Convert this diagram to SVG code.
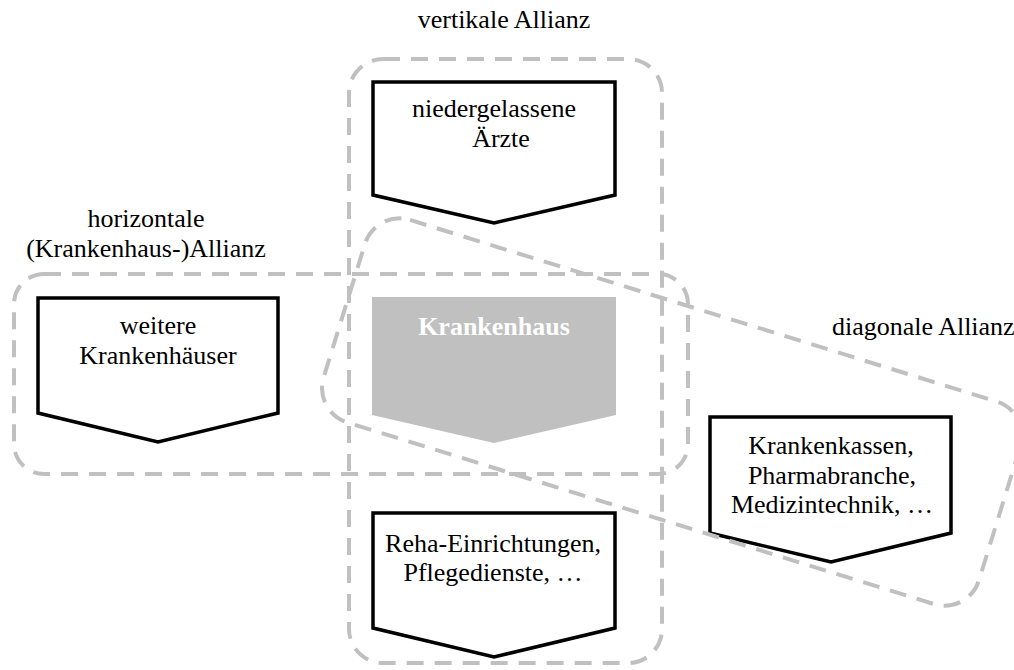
<svg xmlns="http://www.w3.org/2000/svg" width="1014" height="670" viewBox="0 0 1014 670">
<style>
.al{fill:none;stroke:#c0c0c0;stroke-width:4;stroke-dasharray:17 11}
.nd{fill:#fff;stroke:#000;stroke-width:3.5;stroke-linejoin:miter}
.t{font-family:"Liberation Serif","Times New Roman",serif;font-size:26px;fill:#000;text-anchor:middle}
.tl{font-family:"Liberation Serif","Times New Roman",serif;font-size:26px;fill:#000}
.kh{font-family:"Liberation Serif","Times New Roman",serif;font-size:26px;font-weight:bold;fill:#fff;text-anchor:middle}
</style>
<rect width="1014" height="670" fill="#fff"/>
<g id="nodes-fill">
<g id="aerzte">
<polygon class="nd" points="373,82 615,82 615,195 494,223 373,195"/>
<text class="t" x="494" y="117">niedergelassene</text>
<text class="t" x="501" y="147">Ärzte</text>
</g>
<g id="weitere">
<polygon class="nd" points="38,298 278,298 278,413 158,442 38,413"/>
<text class="t" x="158" y="334">weitere</text>
<text class="t" x="158" y="364">Krankenhäuser</text>
</g>
<g id="krankenhaus">
<polygon fill="#c0c0c0" points="372,297 616,297 616,415 494,443 372,415"/>
<text class="kh" x="494" y="335">Krankenhaus</text>
</g>
<g id="reha">
<polygon class="nd" points="373,513 615,513 615,628 494,657 373,628"/>
<text class="t" x="493" y="552">Reha-Einrichtungen,</text>
<text class="t" x="493" y="581">Pflegedienste, …</text>
</g>
<g id="kassen">
<polygon class="nd" points="710,417 951,417 951,533 831,562 710,533"/>
<text class="t" x="831" y="454">Krankenkassen,</text>
<text class="t" x="832" y="484">Pharmabranche,</text>
<text class="t" x="832" y="513">Medizintechnik, …</text>
</g>
</g>
<g id="connectors">
<rect id="vertikal" class="al" x="349" y="59" width="313" height="604" rx="34" ry="34"/>
<rect id="horizontal" class="al" x="14" y="274" width="674" height="200" rx="30" ry="30"/>
<rect id="diagonal" class="al" x="329" y="306" width="686" height="212" rx="36" ry="36" transform="rotate(17.2 672 412)"/>
</g>
<g id="labels">
<text class="t" x="504" y="28">vertikale Allianz</text>
<text class="t" x="146" y="227">horizontale</text>
<text class="t" x="146" y="257">(Krankenhaus-)Allianz</text>
<text class="tl" x="832" y="335">diagonale Allianz</text>
</g>
</svg>
